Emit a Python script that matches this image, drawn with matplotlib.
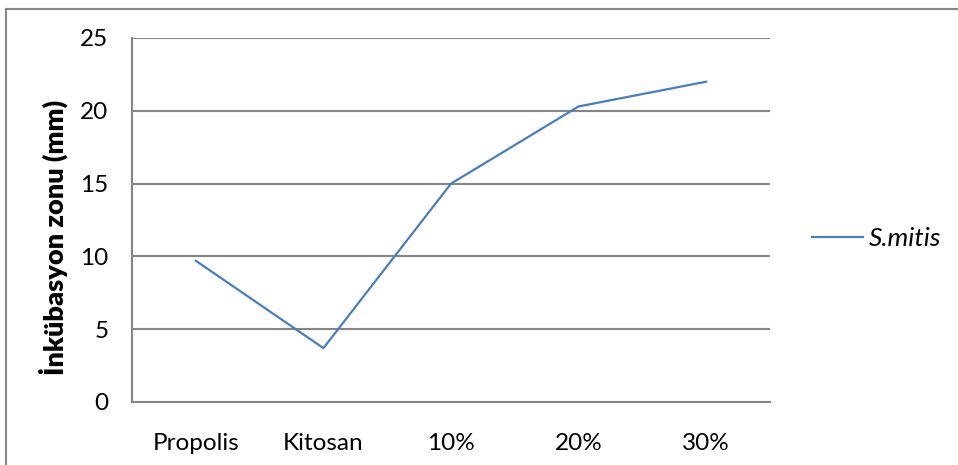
import matplotlib.pyplot as plt
from matplotlib.patches import Rectangle

plt.rcParams['font.family'] = ['Lato', 'DejaVu Sans']

categories = ['Propolis', 'Kitosan', '10%', '20%', '30%']
s_mitis = [9.7, 3.7, 15.0, 20.3, 22.0]
y_ticks = [0, 5, 10, 15, 20, 25]

grid_color = '#868686'
line_color = '#4A7EBB'

fig = plt.figure(figsize=(9.58, 4.65), dpi=100)
ax = fig.add_axes([0.1378, 0.1355, 0.666, 0.7828])

# chart frame, open at right and bottom
fig.patches.append(Rectangle((0.0063, -0.05), 1.05, 1.031, transform=fig.transFigure,
                             fill=False, edgecolor=grid_color, linewidth=1.5))

x = range(len(categories))
line, = ax.plot(x, s_mitis, color=line_color, linewidth=1.6)

ax.set_xlim(-0.5, len(categories) - 0.5)
ax.set_ylim(0, 25)
ax.set_yticks(y_ticks)
ax.set_xticks(list(x))
ax.set_xticklabels(categories)
ax.tick_params(axis='both', length=0, labelsize=17.5, colors='black')
ax.tick_params(axis='x', pad=22)
ax.tick_params(axis='y', pad=17)

for v in y_ticks[1:]:
    ax.axhline(v, color=grid_color, linewidth=1.5, zorder=0)

for side in ['top', 'right']:
    ax.spines[side].set_visible(False)
for side in ['left', 'bottom']:
    ax.spines[side].set_color(grid_color)
    ax.spines[side].set_linewidth(1.5)

ax.set_ylabel('İnkübasyon zonu (mm)', fontsize=19.5, fontweight='heavy')
ax.yaxis.set_label_coords(-0.1, 0.453)

leg = fig.legend([line], ['S.mitis'], loc='center left', bbox_to_anchor=(0.8476, 0.487),
                 frameon=False, borderpad=0, borderaxespad=0, handlelength=1.95,
                 handletextpad=0.2, fontsize=19)
for t in leg.get_texts():
    t.set_fontstyle('italic')

fig.savefig('out.png', dpi=100)
